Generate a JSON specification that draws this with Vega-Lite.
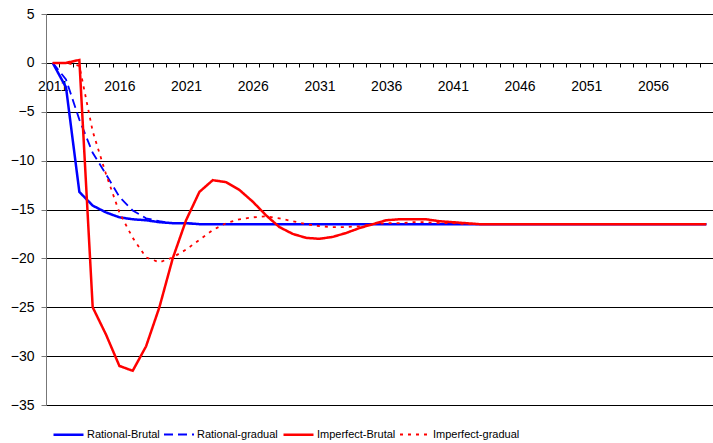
{
  "$schema": "https://vega.github.io/schema/vega-lite/v6.json",
  "width": 667,
  "height": 391,
  "autosize": {"type": "none"},
  "padding": {"left": 46, "top": 14, "right": 0, "bottom": 38},
  "background": "white",
  "config": {"view": {"stroke": null}, "font": "Liberation Sans"},
  "data": {"values": [
    {"year": 2011, "Rational-Brutal": 0, "Rational-gradual": 0, "Imperfect-Brutal": 0, "Imperfect-gradual": 0},
    {"year": 2012, "Rational-Brutal": -2.5, "Rational-gradual": -1.7, "Imperfect-Brutal": 0, "Imperfect-gradual": 0},
    {"year": 2013, "Rational-Brutal": -13.2, "Rational-gradual": -5.8, "Imperfect-Brutal": 0.3, "Imperfect-gradual": -0.3},
    {"year": 2014, "Rational-Brutal": -14.6, "Rational-gradual": -9.2, "Imperfect-Brutal": -25.0, "Imperfect-gradual": -7.0},
    {"year": 2015, "Rational-Brutal": -15.3, "Rational-gradual": -11.4, "Imperfect-Brutal": -27.8, "Imperfect-gradual": -11.4},
    {"year": 2016, "Rational-Brutal": -15.8, "Rational-gradual": -13.7, "Imperfect-Brutal": -31.0, "Imperfect-gradual": -15.3},
    {"year": 2017, "Rational-Brutal": -16.0, "Rational-gradual": -15.1, "Imperfect-Brutal": -31.5, "Imperfect-gradual": -17.9},
    {"year": 2018, "Rational-Brutal": -16.1, "Rational-gradual": -15.9, "Imperfect-Brutal": -29.0, "Imperfect-gradual": -19.9},
    {"year": 2019, "Rational-Brutal": -16.3, "Rational-gradual": -16.2, "Imperfect-Brutal": -25.0, "Imperfect-gradual": -20.4},
    {"year": 2020, "Rational-Brutal": -16.4, "Rational-gradual": -16.4, "Imperfect-Brutal": -20.0, "Imperfect-gradual": -19.9},
    {"year": 2021, "Rational-Brutal": -16.4, "Rational-gradual": -16.4, "Imperfect-Brutal": -16.1, "Imperfect-gradual": -19.1},
    {"year": 2022, "Rational-Brutal": -16.5, "Rational-gradual": -16.5, "Imperfect-Brutal": -13.2, "Imperfect-gradual": -18.1},
    {"year": 2023, "Rational-Brutal": -16.5, "Rational-gradual": -16.5, "Imperfect-Brutal": -12.0, "Imperfect-gradual": -17.1},
    {"year": 2024, "Rational-Brutal": -16.5, "Rational-gradual": -16.5, "Imperfect-Brutal": -12.2, "Imperfect-gradual": -16.4},
    {"year": 2025, "Rational-Brutal": -16.5, "Rational-gradual": -16.5, "Imperfect-Brutal": -13.0, "Imperfect-gradual": -16.0},
    {"year": 2026, "Rational-Brutal": -16.5, "Rational-gradual": -16.5, "Imperfect-Brutal": -14.2, "Imperfect-gradual": -15.8},
    {"year": 2027, "Rational-Brutal": -16.5, "Rational-gradual": -16.5, "Imperfect-Brutal": -15.6, "Imperfect-gradual": -15.7},
    {"year": 2028, "Rational-Brutal": -16.5, "Rational-gradual": -16.5, "Imperfect-Brutal": -16.8, "Imperfect-gradual": -15.9},
    {"year": 2029, "Rational-Brutal": -16.5, "Rational-gradual": -16.5, "Imperfect-Brutal": -17.5, "Imperfect-gradual": -16.2},
    {"year": 2030, "Rational-Brutal": -16.5, "Rational-gradual": -16.5, "Imperfect-Brutal": -17.9, "Imperfect-gradual": -16.5},
    {"year": 2031, "Rational-Brutal": -16.5, "Rational-gradual": -16.5, "Imperfect-Brutal": -18.0, "Imperfect-gradual": -16.7},
    {"year": 2032, "Rational-Brutal": -16.5, "Rational-gradual": -16.5, "Imperfect-Brutal": -17.8, "Imperfect-gradual": -16.8},
    {"year": 2033, "Rational-Brutal": -16.5, "Rational-gradual": -16.5, "Imperfect-Brutal": -17.4, "Imperfect-gradual": -16.8},
    {"year": 2034, "Rational-Brutal": -16.5, "Rational-gradual": -16.5, "Imperfect-Brutal": -16.9, "Imperfect-gradual": -16.7},
    {"year": 2035, "Rational-Brutal": -16.5, "Rational-gradual": -16.5, "Imperfect-Brutal": -16.5, "Imperfect-gradual": -16.5},
    {"year": 2036, "Rational-Brutal": -16.5, "Rational-gradual": -16.5, "Imperfect-Brutal": -16.1, "Imperfect-gradual": -16.4},
    {"year": 2037, "Rational-Brutal": -16.5, "Rational-gradual": -16.5, "Imperfect-Brutal": -16.0, "Imperfect-gradual": -16.4},
    {"year": 2038, "Rational-Brutal": -16.5, "Rational-gradual": -16.5, "Imperfect-Brutal": -16.0, "Imperfect-gradual": -16.3},
    {"year": 2039, "Rational-Brutal": -16.5, "Rational-gradual": -16.5, "Imperfect-Brutal": -16.0, "Imperfect-gradual": -16.3},
    {"year": 2040, "Rational-Brutal": -16.5, "Rational-gradual": -16.5, "Imperfect-Brutal": -16.2, "Imperfect-gradual": -16.4},
    {"year": 2041, "Rational-Brutal": -16.5, "Rational-gradual": -16.5, "Imperfect-Brutal": -16.3, "Imperfect-gradual": -16.4},
    {"year": 2042, "Rational-Brutal": -16.5, "Rational-gradual": -16.5, "Imperfect-Brutal": -16.4, "Imperfect-gradual": -16.5},
    {"year": 2043, "Rational-Brutal": -16.5, "Rational-gradual": -16.5, "Imperfect-Brutal": -16.5, "Imperfect-gradual": -16.5},
    {"year": 2044, "Rational-Brutal": -16.5, "Rational-gradual": -16.5, "Imperfect-Brutal": -16.5, "Imperfect-gradual": -16.5},
    {"year": 2045, "Rational-Brutal": -16.5, "Rational-gradual": -16.5, "Imperfect-Brutal": -16.5, "Imperfect-gradual": -16.5},
    {"year": 2046, "Rational-Brutal": -16.5, "Rational-gradual": -16.5, "Imperfect-Brutal": -16.5, "Imperfect-gradual": -16.5},
    {"year": 2047, "Rational-Brutal": -16.5, "Rational-gradual": -16.5, "Imperfect-Brutal": -16.5, "Imperfect-gradual": -16.5},
    {"year": 2048, "Rational-Brutal": -16.5, "Rational-gradual": -16.5, "Imperfect-Brutal": -16.5, "Imperfect-gradual": -16.5},
    {"year": 2049, "Rational-Brutal": -16.5, "Rational-gradual": -16.5, "Imperfect-Brutal": -16.5, "Imperfect-gradual": -16.5},
    {"year": 2050, "Rational-Brutal": -16.5, "Rational-gradual": -16.5, "Imperfect-Brutal": -16.5, "Imperfect-gradual": -16.5},
    {"year": 2051, "Rational-Brutal": -16.5, "Rational-gradual": -16.5, "Imperfect-Brutal": -16.5, "Imperfect-gradual": -16.5},
    {"year": 2052, "Rational-Brutal": -16.5, "Rational-gradual": -16.5, "Imperfect-Brutal": -16.5, "Imperfect-gradual": -16.5},
    {"year": 2053, "Rational-Brutal": -16.5, "Rational-gradual": -16.5, "Imperfect-Brutal": -16.5, "Imperfect-gradual": -16.5},
    {"year": 2054, "Rational-Brutal": -16.5, "Rational-gradual": -16.5, "Imperfect-Brutal": -16.5, "Imperfect-gradual": -16.5},
    {"year": 2055, "Rational-Brutal": -16.5, "Rational-gradual": -16.5, "Imperfect-Brutal": -16.5, "Imperfect-gradual": -16.5},
    {"year": 2056, "Rational-Brutal": -16.5, "Rational-gradual": -16.5, "Imperfect-Brutal": -16.5, "Imperfect-gradual": -16.5},
    {"year": 2057, "Rational-Brutal": -16.5, "Rational-gradual": -16.5, "Imperfect-Brutal": -16.5, "Imperfect-gradual": -16.5},
    {"year": 2058, "Rational-Brutal": -16.5, "Rational-gradual": -16.5, "Imperfect-Brutal": -16.5, "Imperfect-gradual": -16.5},
    {"year": 2059, "Rational-Brutal": -16.5, "Rational-gradual": -16.5, "Imperfect-Brutal": -16.5, "Imperfect-gradual": -16.5},
    {"year": 2060, "Rational-Brutal": -16.5, "Rational-gradual": -16.5, "Imperfect-Brutal": -16.5, "Imperfect-gradual": -16.5}
  ]},
  "transform": [
    {"fold": ["Rational-Brutal", "Rational-gradual", "Imperfect-Brutal", "Imperfect-gradual"], "as": ["series", "value"]}
  ],
  "mark": {"type": "line", "clip": true},
  "encoding": {
    "x": {
      "field": "year", "type": "quantitative",
      "scale": {"domain": [2010.5, 2060.5], "nice": false, "zero": false},
      "axis": {
        "title": null,
        "values": [2010.5, 2011.5, 2012.5, 2013.5, 2014.5, 2015.5, 2016.5, 2017.5, 2018.5, 2019.5, 2020.5, 2021.5, 2022.5, 2023.5, 2024.5, 2025.5, 2026.5, 2027.5, 2028.5, 2029.5, 2030.5, 2031.5, 2032.5, 2033.5, 2034.5, 2035.5, 2036.5, 2037.5, 2038.5, 2039.5, 2040.5, 2041.5, 2042.5, 2043.5, 2044.5, 2045.5, 2046.5, 2047.5, 2048.5, 2049.5, 2050.5, 2051.5, 2052.5, 2053.5, 2054.5, 2055.5, 2056.5, 2057.5, 2058.5, 2059.5, 2060.5],
        "labelExpr": "(datum.value - 2010.5) % 5 == 0 && datum.value < 2060 ? toString(datum.value + 0.5) : ''",
        "labelOffset": 6.67,
        "offset": -342,
        "grid": false,
        "domainColor": "#000",
        "tickColor": "#000",
        "tickSize": 4,
        "labelPadding": 12,
        "labelFont": "Liberation Sans",
        "labelFontSize": 14,
        "labelColor": "#000",
        "labelFlush": false,
        "labelOverlap": false,
        "labelBound": false
      }
    },
    "y": {
      "field": "value", "type": "quantitative",
      "scale": {"domain": [-35, 5], "nice": false, "zero": false},
      "axis": {
        "title": null,
        "values": [5, 0, -5, -10, -15, -20, -25, -30, -35],
        "grid": true,
        "gridColor": "#000",
        "gridWidth": 1,
        "gridOpacity": 1,
        "domainColor": "#777",
        "tickColor": "#777",
        "tickSize": 5,
        "labelPadding": 7,
        "labelFont": "Liberation Sans",
        "labelFontSize": 14,
        "labelColor": "#000"
      }
    },
    "color": {
      "field": "series", "type": "nominal",
      "scale": {"domain": ["Rational-Brutal", "Rational-gradual", "Imperfect-Brutal", "Imperfect-gradual"], "range": ["#0000FF", "#0000FF", "#FF0000", "#FF0000"]},
      "legend": {
        "orient": "none", "legendX": 6, "legendY": 404,
        "direction": "horizontal", "title": null,
        "symbolType": "stroke", "symbolSize": 900,
        "labelFont": "Liberation Sans", "labelFontSize": 11, "labelColor": "#000",
        "labelOffset": 2, "columnPadding": 0, "padding": 0
      }
    },
    "strokeDash": {
      "field": "series", "type": "nominal",
      "scale": {"domain": ["Rational-Brutal", "Rational-gradual", "Imperfect-Brutal", "Imperfect-gradual"], "range": [[1, 0], [9, 5], [1, 0], [3, 5]]}
    },
    "strokeWidth": {
      "field": "series", "type": "nominal",
      "scale": {"type": "ordinal", "domain": ["Rational-Brutal", "Rational-gradual", "Imperfect-Brutal", "Imperfect-gradual"], "range": [2.5, 1.8, 2.5, 1.8]}
    }
  }
}
